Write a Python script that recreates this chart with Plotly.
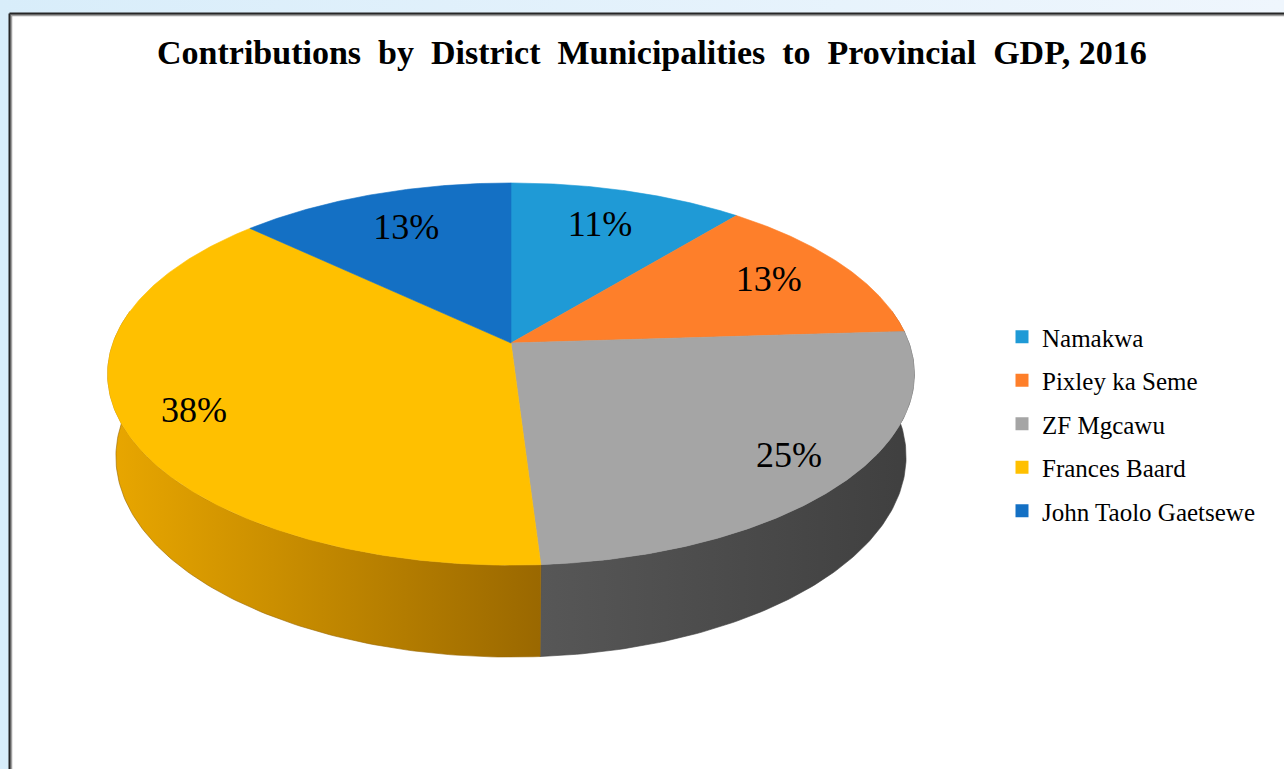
import numpy as np
import plotly.graph_objects as go

# ---------------- data ----------------
districts = ["Namakwa", "Pixley ka Seme", "ZF Mgcawu", "Frances Baard", "John Taolo Gaetsewe"]
shares = [11, 13, 25, 38, 13]          # percent of provincial GDP, 2016
top_colors = ["#1F9AD6", "#FE7F2A", "#A5A5A5", "#FFC000", "#1470C4"]
side_colors = [
    ["#1677A8", "#0F5A80"],
    ["#D5651C", "#A04B12"],
    ["#575757", "#3F3F3F"],
    ["#E9A700", "#9A6800"],
    ["#0F5799", "#0A3F70"],
]
title_text = "Contributions  by  District  Municipalities  to  Provincial  GDP, 2016"

# ---------------- 3D pie projection ----------------
W, H = 1284, 769
CX, CY, S = 511.0, 343.0, 398.0
SIN_T, COS_T = 0.4675, 0.884
DIST = 5.44
THICK = 0.237


def project(theta, r=1.0, yh=0.0):
    X = r * np.sin(theta)
    Z = r * np.cos(theta)
    v = yh * COS_T + Z * SIN_T
    w = -yh * SIN_T + Z * COS_T
    f = DIST / (DIST + w)
    return CX + S * X * f, CY - S * v * f


vals = np.array(shares, dtype=float)
fr = vals / vals.sum()
edges = np.concatenate([[0], np.cumsum(fr)]) * 2 * np.pi

fig = go.Figure()

# background (light blue gradient) and white chart box
fig.add_trace(go.Scatter(
    x=[0, W, W, 0, 0], y=[0, 0, H, H, 0], mode="lines", fill="toself",
    line=dict(width=0), hoverinfo="skip", showlegend=False,
    fillgradient=dict(type="horizontal", colorscale=[[0, "#D8EDFA"], [1, "#EFF6FD"]],
                      start=0, stop=W)))
fig.add_trace(go.Scatter(
    x=[11, W + 20, W + 20, 11, 11], y=[15, 15, H + 20, H + 20, 15], mode="lines",
    fill="toself", fillcolor="#FFFFFF", line=dict(width=2.5, color="#A0A0A0"),
    hoverinfo="skip", showlegend=False))
fig.add_trace(go.Scatter(
    x=[9.5, W + 20, W + 20, 9.5, 9.5], y=[13.5, 13.5, H + 20, H + 20, 13.5], mode="lines",
    line=dict(width=2, color="#262626"), hoverinfo="skip", showlegend=False))

# side walls (front half only)
vis_lo, vis_hi = np.deg2rad(80), np.deg2rad(280)
for i in range(len(shares)):
    a0, a1 = max(edges[i], vis_lo), min(edges[i + 1], vis_hi)
    if a1 <= a0:
        continue
    t = np.linspace(a0, a1, 120)
    xt, yt = project(t)
    xb, yb = project(t[::-1], yh=-THICK)
    xs = np.concatenate([xt, xb, xt[:1]])
    ys = np.concatenate([yt, yb, yt[:1]])
    fig.add_trace(go.Scatter(
        x=xs, y=ys, mode="lines", fill="toself",
        line=dict(width=0.6, color=side_colors[i][1]),
        fillgradient=dict(type="horizontal",
                          colorscale=[[0, side_colors[i][0]], [1, side_colors[i][1]]],
                          start=float(xs.min()), stop=float(xs.max())),
        hoverinfo="skip", showlegend=False))

# top faces
for i in range(len(shares)):
    t = np.linspace(edges[i], edges[i + 1], 200)
    xa, ya = project(t)
    xs = np.concatenate([[CX], xa, [CX]])
    ys = np.concatenate([[CY], ya, [CY]])
    fig.add_trace(go.Scatter(
        x=xs, y=ys, mode="lines", fill="toself", fillcolor=top_colors[i],
        line=dict(width=0.6, color=top_colors[i]),
        name=districts[i], hoverinfo="name", showlegend=False))

# data labels
mids = (edges[:-1] + edges[1:]) / 2
lr = 0.8 - 0.07 * np.cos(mids)
lx, ly = project(mids, r=lr)
fig.add_trace(go.Scatter(
    x=lx, y=ly, mode="text", text=[f"{v:.0f}%" for v in fr * 100],
    textposition="middle center",
    textfont=dict(family="Liberation Serif", size=36, color="#000000"),
    hoverinfo="skip", showlegend=False))

# legend entries
for i in range(len(shares)):
    fig.add_trace(go.Scatter(
        x=[None], y=[None], mode="markers", name=districts[i], legendgroup=districts[i],
        marker=dict(symbol="square", size=13, color=top_colors[i], line=dict(width=0))))

fig.add_annotation(
    x=651.5, y=52, xref="x", yref="y", text=f"<b>{title_text}</b>", showarrow=False,
    font=dict(family="Liberation Serif", size=34, color="#000000"),
    xanchor="center", yanchor="middle")

fig.update_layout(
    width=W, height=H, margin=dict(l=0, r=0, t=0, b=0),
    paper_bgcolor="#E4F2FB", plot_bgcolor="rgba(0,0,0,0)",
    xaxis=dict(range=[0, W], visible=False, fixedrange=True),
    yaxis=dict(range=[H, 0], visible=False, fixedrange=True),
    showlegend=True,
    legend=dict(x=1002 / W, y=1 - 314 / H, xanchor="left", yanchor="top",
                bgcolor="rgba(0,0,0,0)", tracegroupgap=8,
                font=dict(family="Liberation Serif", size=25, color="#000000")),
)

fig.write_html("out.html", config={"displayModeBar": False},
               post_script="document.body.style.margin='0';")
